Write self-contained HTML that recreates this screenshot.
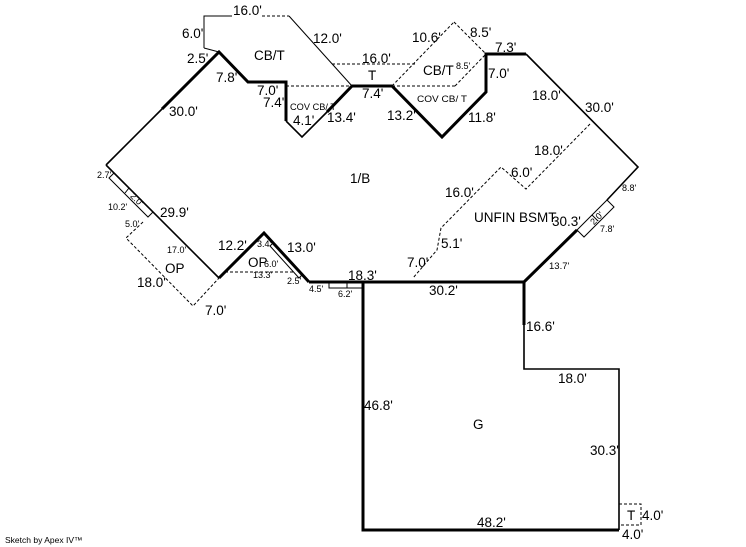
<!DOCTYPE html>
<html><head><meta charset="utf-8"><style>html,body{margin:0;padding:0;background:#fff;}svg{display:block}</style></head>
<body>
<svg width="746" height="547" viewBox="0 0 746 547" xmlns="http://www.w3.org/2000/svg" font-family="Liberation Sans, Arial, sans-serif" fill="#000">
<rect width="746" height="547" fill="#fff"/>
<g fill="none" stroke="#000" stroke-linejoin="miter">
  <g stroke-width="3">
    <polyline points="162,109 219,52 248,82 286,82 286,121"/>
    <polyline points="327,112 352,86 392,86 442,137 486,92 486,54 526,54"/>
    <polyline points="577,230 524,282 309,282"/>
    <polyline points="309,282 264,233 219,278"/>
    <polyline points="363,282 363,530 619,530"/>
    <line x1="524" y1="282" x2="524" y2="325"/>
  </g>
  <g stroke-width="1.6">
    <line x1="106" y1="165" x2="162" y2="109"/>
    <polyline points="286,121 302,137 327,112"/>
    <polyline points="526,54 638,167 607,200"/>
    <line x1="106" y1="165" x2="219" y2="278"/>
    <polyline points="619,530 619,369 524,369 524,325"/>
  </g>
  <g stroke-width="1">
    <polyline points="204,48 204,16 232,16"/>
    <line x1="289" y1="16" x2="352" y2="86"/>
    <line x1="204" y1="48" x2="219" y2="52"/>
    <polygon points="114,173 109,178 148,217 153,212"/>
    <line x1="129" y1="188" x2="125" y2="193"/>
    <polygon points="607,200 614,207 584,237 577,230"/>
    <line x1="592" y1="215" x2="598" y2="221"/>
    <polygon points="273,243 270,246 299,278 302,275"/>
    <rect x="329" y="282" width="33" height="6"/>
    <line x1="347" y1="282" x2="347" y2="288"/>
  </g>
  <g stroke-width="1" stroke-dasharray="3,2">
    <line x1="262" y1="16" x2="289" y2="16"/>
    <line x1="332" y1="64" x2="417" y2="64"/>
    <line x1="286" y1="86" x2="352" y2="86"/>
    <line x1="392" y1="86" x2="455" y2="86"/>
    <line x1="392" y1="86" x2="454" y2="22"/>
    <line x1="454" y1="22" x2="486" y2="54"/>
    <line x1="455" y1="86" x2="486" y2="54"/>
    <polyline points="590,124 526,189 501,167 441,228 437,250 413,278"/>
    <polyline points="143,222 126,238 193,306 219,278"/>
    <line x1="225" y1="272" x2="295" y2="272"/>
    <rect x="619" y="504" width="22" height="21"/>
  </g>
</g>
<g font-size="13.5">
  <text x="233" y="15">16.0'</text>
  <text x="182" y="38">6.0'</text>
  <text x="313" y="43">12.0'</text>
  <text x="187" y="63">2.5'</text>
  <text x="254" y="60">CB/T</text>
  <text x="216" y="82">7.8'</text>
  <text x="257" y="95">7.0'</text>
  <text x="263" y="107">7.4'</text>
  <text x="169" y="116">30.0'</text>
  <text x="293" y="125">4.1'</text>
  <text x="327" y="122">13.4'</text>
  <text x="412" y="42">10.6'</text>
  <text x="470" y="37">8.5'</text>
  <text x="495" y="52">7.3'</text>
  <text x="362" y="63">16.0'</text>
  <text x="368" y="80">T</text>
  <text x="423" y="75">CB/T</text>
  <text x="488" y="78">7.0'</text>
  <text x="362" y="98">7.4'</text>
  <text x="532" y="100">18.0'</text>
  <text x="585" y="112">30.0'</text>
  <text x="387" y="120">13.2'</text>
  <text x="468" y="122">11.8'</text>
  <text x="534" y="155">18.0'</text>
  <text x="511" y="177">6.0'</text>
  <text x="445" y="197">16.0'</text>
  <text x="350" y="183">1/B</text>
  <text x="474" y="222">UNFIN BSMT</text>
  <text x="552" y="226">30.3'</text>
  <text x="441" y="248">5.1'</text>
  <text x="407" y="267">7.0'</text>
  <text x="160" y="217">29.9'</text>
  <text x="165" y="273">OP</text>
  <text x="137" y="287">18.0'</text>
  <text x="205" y="315">7.0'</text>
  <text x="218" y="250">12.2'</text>
  <text x="287" y="252">13.0'</text>
  <text x="248" y="267">OP</text>
  <text x="348" y="280">18.3'</text>
  <text x="429" y="295">30.2'</text>
  <text x="526" y="331">16.6'</text>
  <text x="558" y="383">18.0'</text>
  <text x="364" y="410">46.8'</text>
  <text x="473" y="429">G</text>
  <text x="590" y="455">30.3'</text>
  <text x="477" y="527">48.2'</text>
  <text x="627" y="520">T</text>
  <text x="642" y="520">4.0'</text>
  <text x="622" y="539">4.0'</text>
</g>
<g font-size="9.5">
  <text x="290" y="110" textLength="46" lengthAdjust="spacingAndGlyphs">COV CB/ T</text>
  <text x="417" y="102" textLength="50" lengthAdjust="spacingAndGlyphs">COV CB/ T</text>
  <text x="549" y="269">13.7'</text>
</g>
<g font-size="9">
  <text x="456" y="69">8.5'</text>
  <text x="622" y="191">8.8'</text>
  <text x="600" y="232">7.8'</text>
  <text x="97" y="178">2.7'</text>
  <text x="108" y="210">10.2'</text>
  <text x="125" y="227">5.0'</text>
  <text x="167" y="253">17.0'</text>
  <text x="257" y="247">3.4'</text>
  <text x="264" y="267">6.0'</text>
  <text x="253" y="278">13.3'</text>
  <text x="287" y="284">2.5'</text>
  <text x="309" y="292">4.5'</text>
  <text x="338" y="297">6.2'</text>
  <text x="130" y="200" transform="rotate(45 134 198)">2.0'</text>
  <text x="590" y="222" transform="rotate(-45 596 219)">2.0'</text>
  <text x="5" y="543" font-size="8.5">Sketch by Apex IV™</text>
</g>
</svg>
</body></html>
